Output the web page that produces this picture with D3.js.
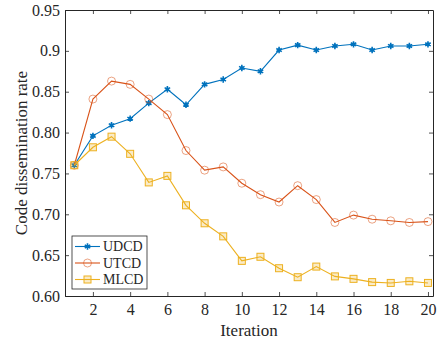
<!DOCTYPE html>
<html>
<head>
<meta charset="utf-8">
<script src="https://cdn.jsdelivr.net/npm/d3@7"></script>
<style>
  html, body { margin: 0; padding: 0; background: #fff; }
</style>
</head>
<body>
<svg id="chart" width="438" height="343"></svg>
<script>
// values
const ITER = d3.range(1, 21);
const UDCD = [0.760, 0.796, 0.809, 0.817, 0.836, 0.853, 0.834, 0.859, 0.865, 0.879,
              0.875, 0.901, 0.907, 0.901, 0.906, 0.908, 0.901, 0.906, 0.906, 0.908];
const UTCD = [0.760, 0.841, 0.863, 0.859, 0.841, 0.822, 0.778, 0.754, 0.758, 0.738,
              0.724, 0.715, 0.735, 0.718, 0.690, 0.699, 0.694, 0.692, 0.690, 0.691];
const MLCD = [0.760, 0.782, 0.795, 0.774, 0.739, 0.747, 0.711, 0.689, 0.673, 0.643,
              0.648, 0.634, 0.623, 0.636, 0.624, 0.621, 0.617, 0.616, 0.618, 0.616];
const X_TICKS = [2, 4, 6, 8, 10, 12, 14, 16, 18, 20];
const Y_TICKS = [0.60, 0.65, 0.70, 0.75, 0.80, 0.85, 0.90, 0.95];
const Y_LABELS = ["0.60", "0.65", "0.70", "0.75", "0.80", "0.85", "0.9", "0.95"];

const SERIES = [
  {name: "UDCD", values: UDCD, color: "#0072BD", mark: "star"},
  {name: "UTCD", values: UTCD, color: "#D95319", mark: "circle"},
  {name: "MLCD", values: MLCD, color: "#EDB120", mark: "square"}
];

const M = {left: 65, top: 10, right: 433, bottom: 296};
const AX = "#262626";
const FONT = '"Liberation Serif", "Times New Roman", serif';

const svg = d3.select("#chart");
const x = d3.scaleLinear().domain([0.5, 20.27]).range([M.left, M.right]);
const y = d3.scaleLinear().domain([0.60, 0.95]).range([M.bottom, M.top]);

// axes: inward ticks, boxed
svg.append("g").attr("transform", `translate(0,${M.bottom})`)
  .call(d3.axisBottom(x).tickValues(X_TICKS).tickSize(-4).tickPadding(8).tickSizeOuter(0))
  .call(g => g.selectAll("text").attr("dy", "0.71em"));
svg.append("g").attr("transform", `translate(0,${M.top})`)
  .call(d3.axisTop(x).tickValues(X_TICKS).tickSize(-4).tickFormat("").tickSizeOuter(0));
svg.append("g").attr("transform", `translate(${M.left},0)`)
  .call(d3.axisLeft(y).tickValues(Y_TICKS).tickSize(-4).tickPadding(5).tickSizeOuter(0)
    .tickFormat((d, i) => Y_LABELS[i]));
svg.append("g").attr("transform", `translate(${M.right},0)`)
  .call(d3.axisRight(y).tickValues(Y_TICKS).tickSize(-4).tickFormat("").tickSizeOuter(0));
svg.selectAll(".domain").attr("stroke", AX).attr("stroke-width", 1);
svg.selectAll(".tick line").attr("stroke", AX).attr("stroke-width", 0.8);
svg.selectAll(".tick text").attr("fill", AX).attr("font-size", 16);

const line = d3.line().x((d, i) => x(ITER[i])).y(d => y(d));

function marker(g, kind, color, cx, cy) {
  if (kind === "circle") {
    g.append("circle").attr("cx", cx).attr("cy", cy).attr("r", 4)
      .attr("fill", "none").attr("stroke", color).attr("stroke-width", 0.9).attr("opacity", 0.6);
  } else if (kind === "square") {
    g.append("rect").attr("x", cx - 3.5).attr("y", cy - 3.5).attr("width", 7).attr("height", 7)
      .attr("fill", color).attr("fill-opacity", 0.25)
      .attr("stroke", color).attr("stroke-width", 1);
  } else {
    const p = d3.symbol().type(d3.symbolAsterisk).size(28)();
    g.append("path").attr("d", p).attr("transform", `translate(${cx},${cy})`)
      .attr("fill", "none").attr("stroke", color).attr("stroke-width", 1.6);
    g.append("circle").attr("cx", cx).attr("cy", cy).attr("r", 1.8).attr("fill", color);
  }
}

SERIES.forEach(s => {
  const g = svg.append("g");
  g.append("path").datum(s.values).attr("d", line)
    .attr("fill", "none").attr("stroke", s.color).attr("stroke-width", 1.1);
  s.values.forEach((v, i) => marker(g, s.mark, s.color, x(ITER[i]), y(v)));
});

// legend
const lg = svg.append("g");
lg.append("rect").attr("x", 72).attr("y", 236).attr("width", 75).attr("height", 53)
  .attr("fill", "#fff").attr("stroke", AX).attr("stroke-width", 0.8);
SERIES.forEach((s, i) => {
  const ly = 246.5 + i * 16.5;
  lg.append("line").attr("x1", 75).attr("x2", 100).attr("y1", ly).attr("y2", ly)
    .attr("stroke", s.color).attr("stroke-width", 1.1);
  marker(lg, s.mark, s.color, 87.5, ly);
  lg.append("text").attr("x", 103).attr("y", ly).attr("dy", "0.35em")
    .attr("font-size", 14).attr("fill", AX).text(s.name);
});

// axis titles
svg.append("text").attr("x", (M.left + M.right) / 2).attr("y", 336).attr("text-anchor", "middle")
  .attr("font-size", 17).attr("fill", AX).text("Iteration");
svg.append("text").attr("transform", `translate(27,153) rotate(-90)`)
  .attr("text-anchor", "middle").attr("font-size", 17).attr("fill", AX)
  .text("Code dissemination rate");

svg.selectAll("text").style("font-family", FONT);
</script>
</body>
</html>
